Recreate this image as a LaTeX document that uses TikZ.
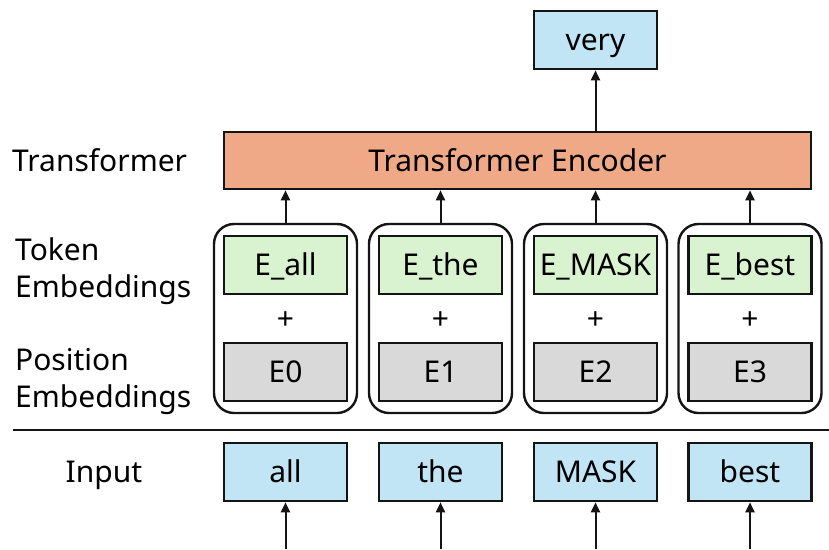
\documentclass[tikz,border=0pt]{standalone}
\usepackage{fontspec}
\setmainfont{Noto Sans}
\usetikzlibrary{arrows.meta}
\definecolor{tokblue}{RGB}{194,229,245}
\definecolor{encorange}{RGB}{240,169,134}
\definecolor{embgreen}{RGB}{217,242,208}
\definecolor{posgrey}{RGB}{217,217,217}
\definecolor{edge}{RGB}{20,20,20}
\begin{document}
\begin{tikzpicture}[x=1pt,y=-1pt,
  every node/.style={font=\fontsize{30}{37}\selectfont, inner sep=0pt},
  box/.style={draw=edge, line width=2.6pt, minimum width=123pt, minimum height=58pt,
    text height=21.4pt, text depth=0pt},
  tokbox/.style={box, fill=tokblue},
  embbox/.style={box, fill=embgreen},
  posbox/.style={box, fill=posgrey},
  group/.style={draw=edge, line width=2.4pt, rounded corners=20pt, minimum width=143pt, minimum height=189pt},
  rowlabel/.style={anchor=west, align=left},
  flow/.style={draw=edge, line width=2pt, -{Triangle[length=10pt,width=9pt]}}
]
\useasboundingbox (0,0) rectangle (829,549);

% output token and encoder
\node[tokbox] (very) at (595.5,40) {very};
\node[box, fill=encorange, minimum width=587pt, minimum height=57pt] (enc) at (517.5,160.5) {Transformer Encoder};
\draw[flow] (enc.north -| very) -- (very.south);

% row labels
\node[rowlabel, text height=21.4pt, text depth=0pt] (lt) at (12,161) {Transformer};
\node[rowlabel] (le) at (15,271) {Token\\Embeddings};
\node[rowlabel] (lp) at (15,382) {Position\\Embeddings};
\node[anchor=center, text height=21.4pt, text depth=0pt] (li) at (104,472) {Input};

% separator
\coordinate (sepl) at (13,430);
\coordinate (sepr) at (829,430);
\draw[edge, line width=2.4pt] (sepl) -- (sepr);

% embedding columns and inputs
\foreach \i/\x/\tok/\emb in {0/285.5/all/E\_all, 1/440.5/the/E\_the, 2/595.5/MASK/E\_MASK, 3/750/best/E\_best} {
  \node[group] (g\i) at (\x,318.5) {};
  \node[embbox] (e\i) at (\x,265) {\emb};
  \node (p\i) at (\x,321) {+};
  \node[posbox] (q\i) at (\x,372) {E\i};
  \node[tokbox] (in\i) at (\x,472) {\tok};
  \coordinate (src\i) at (\x,549);
  \draw[flow] (src\i) -- (in\i.south);
  \draw[flow] (g\i.north) -- (g\i.north |- enc.south);
}
\end{tikzpicture}
\end{document}
